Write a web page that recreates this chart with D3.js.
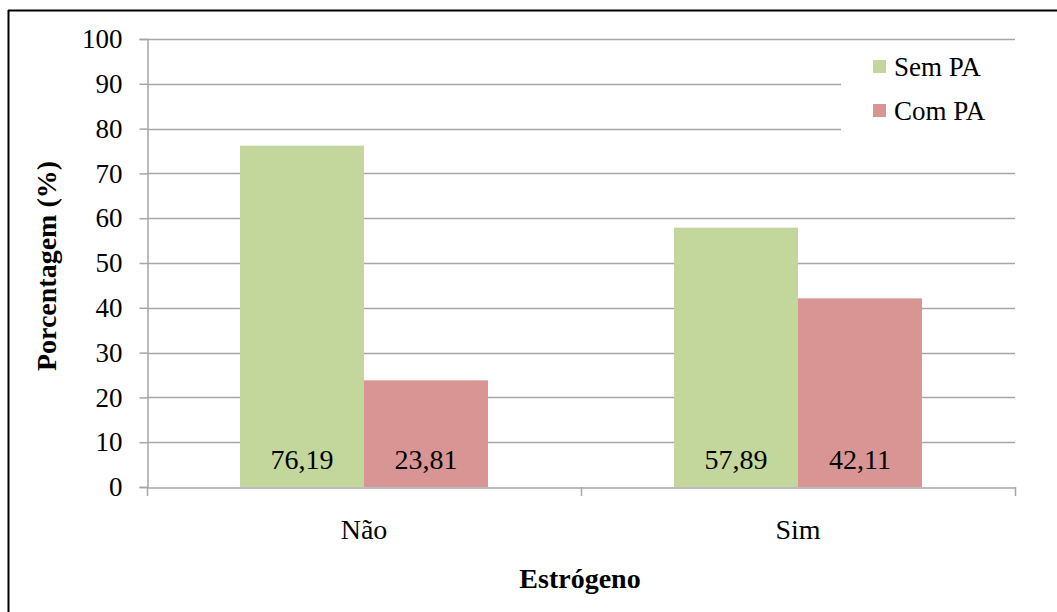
<!DOCTYPE html>
<html><head><meta charset="utf-8">
<script src="https://cdn.jsdelivr.net/npm/d3@7"></script>
<style>body{margin:0;background:#fff}svg{display:block}svg text{font-family:"Liberation Serif","Tinos","Times New Roman","DejaVu Serif",serif}</style>
</head><body>
<script>
const categories = ["Não", "Sim"];
const seriesNames = ["Sem PA", "Com PA"];
const semPA = [76.19, 57.89];
const comPA = [23.81, 42.11];
const labelsSem = ["76,19", "57,89"];
const labelsCom = ["23,81", "42,11"];
const yTicks = [0,10,20,30,40,50,60,70,80,90,100];
const colors = ["#c3d69b", "#d99594"];

(function(){
const W = 1057, H = 612;
const svg = d3.select("body").append("svg").attr("width", W).attr("height", H);

// frame (partially cut)
svg.append("line").attr("x1",8.5).attr("x2",8.5).attr("y1",10).attr("y2",H).attr("stroke","#000").attr("stroke-width",2);
svg.append("line").attr("x1",8).attr("x2",W).attr("y1",10.5).attr("y2",10.5).attr("stroke","#000").attr("stroke-width",2);

const pLeft = 147, pRight = 1015, pTop = 39, pBottom = 487;
const x = d3.scaleBand().domain(categories).range([pLeft, pRight]);
const y = d3.scaleLinear().domain([0,100]).range([pBottom, pTop]);
const inner = d3.scaleBand().domain(seriesNames).range([0, x.bandwidth()]).paddingOuter(0.75).paddingInner(0);

// gridlines
svg.append("g").selectAll("line").data(yTicks.filter(d=>d>0)).join("line")
  .attr("x1", pLeft).attr("x2", pRight)
  .attr("y1", d=>Math.round(y(d))+0.5).attr("y2", d=>Math.round(y(d))+0.5)
  .attr("stroke","#a6a6a6").attr("stroke-width",1.5);

// y axis
const yAxis = d3.axisLeft(y).tickValues(yTicks).tickSize(8).tickPadding(17).tickFormat(d3.format("d"));
const gy = svg.append("g").attr("transform",`translate(${pLeft+0.5},0)`).call(yAxis);
gy.attr("font-family",null).attr("font-size",null);
gy.select(".domain").attr("stroke","#a6a6a6").attr("stroke-width",1.5);
gy.selectAll(".tick line").attr("stroke","#a6a6a6").attr("stroke-width",1.5);
gy.selectAll("text").style("font-size","27px").attr("fill","#000");

// bars
const data = [];
categories.forEach((c,i)=>{
  data.push({cat:c, s:seriesNames[0], v:semPA[i], lab:labelsSem[i], col:colors[0]});
  data.push({cat:c, s:seriesNames[1], v:comPA[i], lab:labelsCom[i], col:colors[1]});
});
svg.append("g").selectAll("rect").data(data).join("rect")
  .attr("x", d=>x(d.cat)+inner(d.s)).attr("width", inner.bandwidth())
  .attr("y", d=>y(d.v)).attr("height", d=>y(0)-y(d.v)).attr("fill", d=>d.col);
svg.append("g").selectAll("text").data(data).join("text")
  .attr("x", d=>x(d.cat)+inner(d.s)+inner.bandwidth()/2).attr("y", y(0)-18)
  .attr("text-anchor","middle").style("font-size","28px").attr("fill","#000")
  .text(d=>d.lab);

// x axis
const xAxis = d3.axisBottom(x).tickSize(0).tickPadding(32);
const gx = svg.append("g").attr("transform",`translate(0,${pBottom+0.5})`).call(xAxis);
gx.attr("font-family",null).attr("font-size",null);
gx.select(".domain").attr("stroke","#a6a6a6").attr("stroke-width",1.5);
gx.selectAll("text").style("font-size","28px").attr("fill","#000");
const bounds = [pLeft, ...categories.slice(1).map(c=>x(c)), pRight];
svg.append("g").selectAll("line").data(bounds).join("line")
  .attr("x1", d=>d+0.5).attr("x2", d=>d+0.5).attr("y1", pBottom).attr("y2", pBottom+9)
  .attr("stroke","#a6a6a6").attr("stroke-width",1.5);

// axis titles
svg.append("text").attr("x", 580).attr("y", 588).attr("text-anchor","middle")
  .style("font-size","28px").attr("font-weight","bold").text("Estrógeno");
svg.append("text").attr("transform",`translate(56,${(pTop+pBottom)/2 + 3}) rotate(-90)`).attr("text-anchor","middle")
  .style("font-size","28px").attr("font-weight","bold").text("Porcentagem (%)");

// legend
const lg = svg.append("g");
lg.append("rect").attr("x",841).attr("y",47).attr("width",174).attr("height",92).attr("fill","#fff");
seriesNames.forEach((s,i)=>{
  lg.append("rect").attr("x",873).attr("y",60+i*44).attr("width",13).attr("height",13).attr("fill",colors[i]);
  lg.append("text").attr("x",894).attr("y",76+i*44).style("font-size","27px").attr("fill","#000").text(s);
});
})();
</script>
</body></html>
